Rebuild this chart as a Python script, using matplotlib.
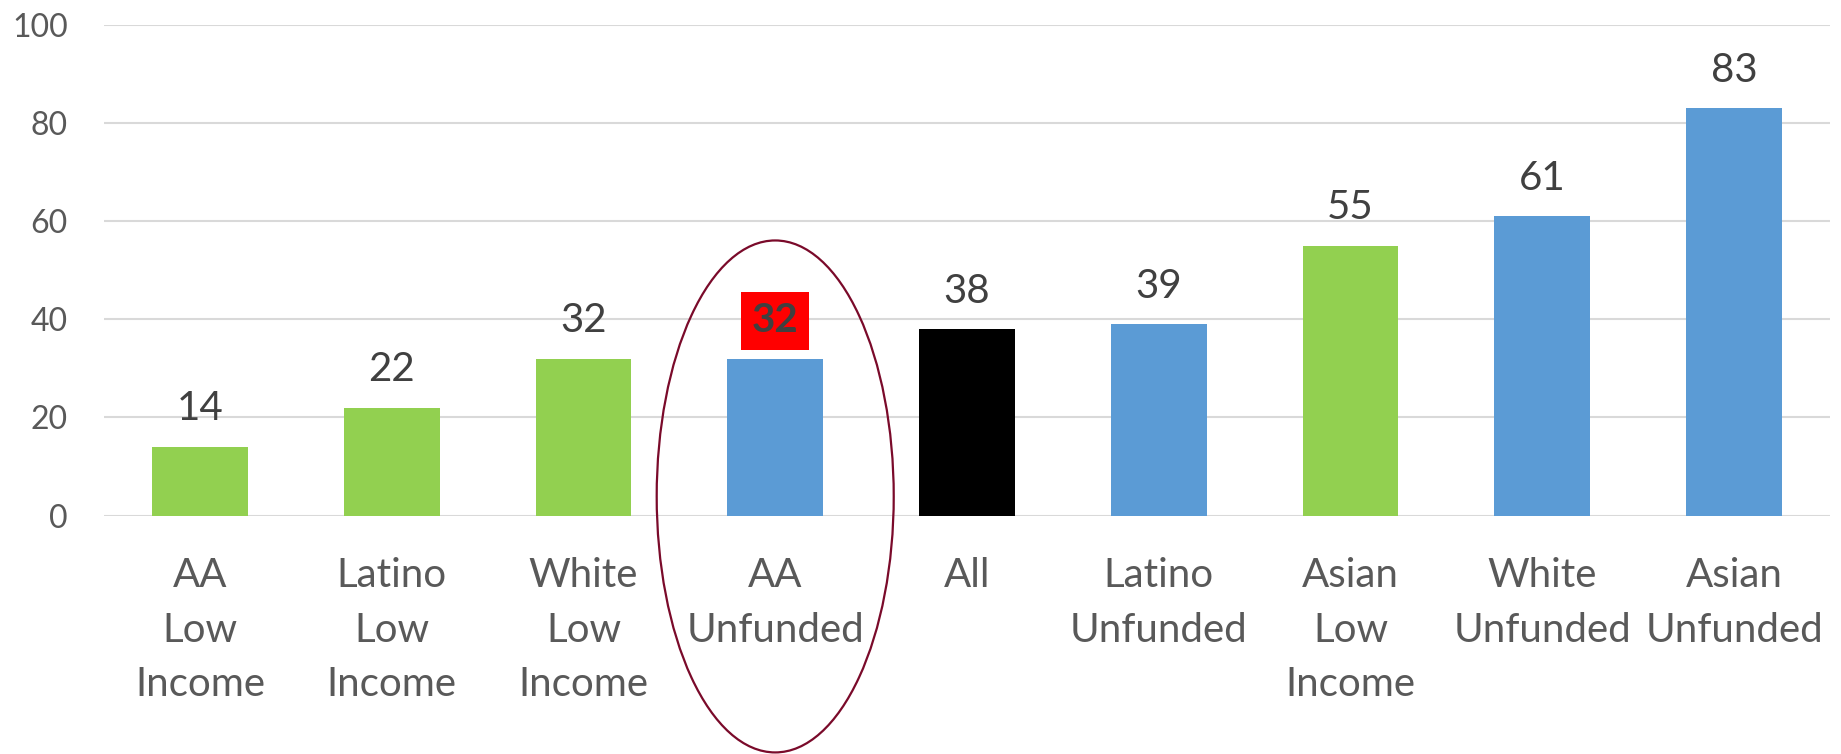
import matplotlib
matplotlib.use("Agg")
import matplotlib.pyplot as plt
from matplotlib.patches import Ellipse

plt.rcParams['font.family'] = ['Lato', 'DejaVu Sans']

categories = ["AA\nLow\nIncome", "Latino\nLow\nIncome", "White\nLow\nIncome",
              "AA\nUnfunded", "All", "Latino\nUnfunded", "Asian\nLow\nIncome",
              "White\nUnfunded", "Asian\nUnfunded"]
values = [14, 22, 32, 32, 38, 39, 55, 61, 83]
groups = ["low", "low", "low", "unfunded", "all", "unfunded", "low",
          "unfunded", "unfunded"]
highlight = "AA\nUnfunded"
yticks = [0, 20, 40, 60, 80, 100]

palette = {"low": "#92D050", "unfunded": "#5B9BD5", "all": "#000000"}

fig = plt.figure(figsize=(18.41, 7.54), dpi=100)
ax = fig.add_axes([0.0565, 0.3162, 0.9375, 0.651])

x = list(range(len(categories)))
ax.bar(x, values, width=0.5, color=[palette[g] for g in groups], zorder=3)

ax.set_xlim(-0.5, len(categories) - 0.5)
ax.set_ylim(0, 100)
ax.set_yticks(yticks)
ax.set_yticklabels([str(t) for t in yticks], fontsize=23, color="#595959")
ax.set_xticks(x)
ax.set_xticklabels(categories, fontsize=29, color="#595959", linespacing=1.58)
ax.tick_params(axis="both", length=0)
ax.tick_params(axis="y", pad=26)
ax.tick_params(axis="x", pad=30)
ax.yaxis.grid(True, color="#D9D9D9", linewidth=1.5, zorder=0)
for s in ax.spines.values():
    s.set_visible(False)

for xi, v, c in zip(x, values, categories):
    if c == highlight:
        ax.annotate(str(v), (xi, v), xytext=(0, 19), textcoords="offset points",
                    ha="center", va="baseline", fontsize=29, fontweight="bold",
                    color="#404040",
                    bbox=dict(boxstyle="square,pad=0.26", fc="#FF0000", ec="none"))
    else:
        ax.annotate(str(v), (xi, v), xytext=(0, 19), textcoords="offset points",
                    ha="center", va="baseline", fontsize=29, color="#404040")

hx = categories.index(highlight)
ax.add_patch(Ellipse((hx, 3.9), width=1.236, height=104.3, fill=False,
                     edgecolor="#7A0A2A", linewidth=1.6, clip_on=False, zorder=4))

fig.savefig("out.png", dpi=100)
